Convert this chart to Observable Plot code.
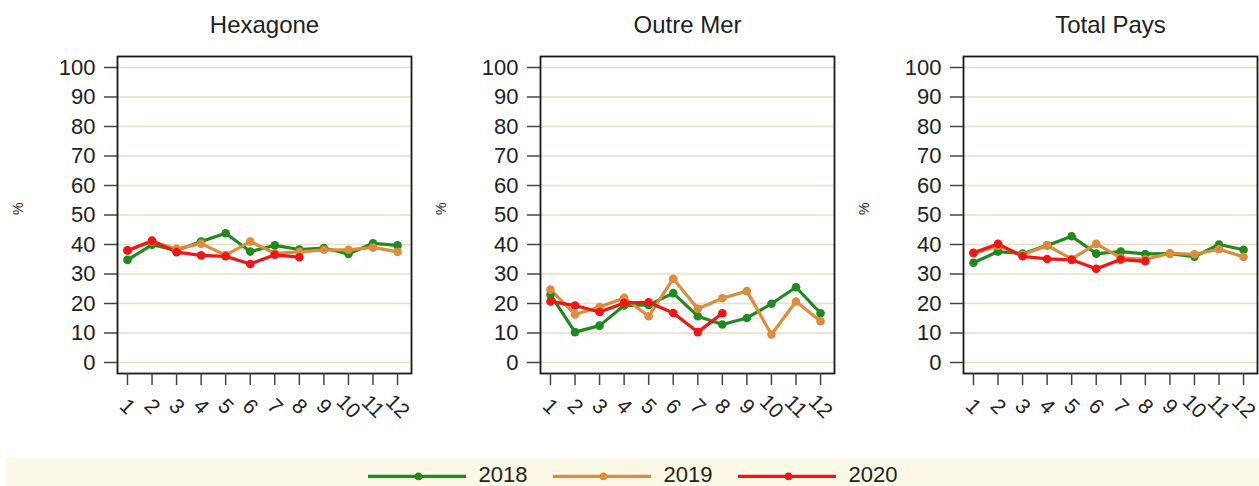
<!DOCTYPE html>
<html>
<head>
<meta charset="utf-8">
<script src="https://cdn.jsdelivr.net/npm/d3@7"></script>
<script src="https://cdn.jsdelivr.net/npm/@observablehq/plot@0.6"></script>
<style>
  html, body { margin: 0; padding: 0; background: #ffffff; }
  #chart { position: relative; width: 1259px; height: 486px; font-family: "Liberation Sans", Arial, sans-serif; overflow: hidden; }
  .panel { position: absolute; top: 0; }
  #legend { position: absolute; left: 6px; top: 458px; width: 1253px; height: 28px; background: #fbf8e6; }
  #legend svg { overflow: visible; }
</style>
</head>
<body>
<div id="chart"></div>
<script>
const months = [1, 2, 3, 4, 5, 6, 7, 8, 9, 10, 11, 12];
const years = ["2018", "2019", "2020"];
const colors = ["#1f8a1f", "#dc8c3c", "#f41414"];
const regions = ["Hexagone", "Outre Mer", "Total Pays"];
const yTicks = [0, 10, 20, 30, 40, 50, 60, 70, 80, 90, 100];

// Hexagone
const hexagone2018 = [34.8, 39.9, 38.0, 41.0, 43.8, 37.6, 39.7, 38.3, 38.8, 36.8, 40.4, 39.7];
const hexagone2019 = [38.0, 41.0, 38.5, 40.3, 36.4, 41.0, 37.0, 37.5, 38.2, 38.2, 39.0, 37.5];
const hexagone2020 = [38.0, 41.3, 37.4, 36.3, 36.0, 33.4, 36.5, 35.7];
// Outre Mer
const outremer2018 = [23.0, 10.3, 12.5, 19.3, 19.5, 23.5, 15.7, 12.9, 15.1, 19.9, 25.5, 16.7];
const outremer2019 = [24.7, 16.3, 18.8, 21.9, 15.7, 28.4, 18.2, 21.8, 24.2, 9.5, 20.7, 14.0];
const outremer2020 = [20.7, 19.3, 17.1, 20.2, 20.4, 16.8, 10.3, 16.7];
// Total Pays
const total2018 = [33.8, 37.6, 36.9, 39.7, 42.8, 36.9, 37.6, 36.8, 36.9, 35.9, 40.0, 38.2];
const total2019 = [37.0, 39.5, 36.5, 39.7, 35.1, 40.2, 35.5, 35.0, 37.0, 36.7, 38.4, 35.8];
const total2020 = [37.2, 40.2, 36.0, 35.1, 34.8, 31.8, 34.9, 34.3];

const series = {
  "Hexagone": [hexagone2018, hexagone2019, hexagone2020],
  "Outre Mer": [outremer2018, outremer2019, outremer2020],
  "Total Pays": [total2018, total2019, total2020]
};

const table = [];
for (const region of regions) {
  series[region].forEach((vals, i) => {
    vals.forEach((v, j) => table.push({region, year: years[i], month: months[j], value: v}));
  });
}

const font = '"Liberation Sans", Arial, sans-serif';
const chart = document.getElementById("chart");

regions.forEach((region, k) => {
  const rows = table.filter(d => d.region === region);
  const p = Plot.plot({
    width: 423,
    height: 450,
    marginLeft: 117,
    marginRight: 12,
    marginTop: 56,
    marginBottom: 77,
    style: {fontFamily: font, color: "#222", background: "transparent", overflow: "visible"},
    x: {domain: [0.594, 12.568], label: null},
    y: {domain: [-3.73, 103.73], label: null},
    color: {domain: years, range: colors},
    marks: [
      Plot.ruleY(yTicks, {stroke: "#e6dfc4", strokeWidth: 1.6}),
      Plot.frame({stroke: "#1a1a1a", strokeWidth: 1.8}),
      Plot.axisY(yTicks, {tickSize: 13, tickPadding: 9, fontSize: 22, stroke: "#444", strokeWidth: 1.5, label: null}),
      Plot.axisX(months, {tickSize: 12, tickPadding: 21, tickRotate: 45, textAnchor: "middle", lineAnchor: "middle", fontSize: 21, stroke: "#444", strokeWidth: 1.5, label: null}),
      Plot.line(rows, {x: "month", y: "value", z: "year", stroke: "year", strokeWidth: 3.2}),
      Plot.dot(rows, {x: "month", y: "value", fill: "year", r: 4.3}),
      Plot.text([region], {frameAnchor: "top", lineAnchor: "middle", dy: -31, fontSize: 24, fill: "#222"}),
      Plot.text(["%"], {frameAnchor: "left", dx: -99, rotate: -90, fontSize: 14, fill: "#222"})
    ]
  });
  p.classList.add("panel");
  p.style.left = (k * 423) + "px";
  chart.appendChild(p);
});

// Legend
const legend = document.createElement("div");
legend.id = "legend";
chart.appendChild(legend);
const lg = Plot.plot({
  width: 1253, height: 28, margin: 0,
  style: {fontFamily: font, background: "transparent", overflow: "visible"},
  x: {domain: [0, 1253]}, y: {domain: [0, 1]},
  axis: null,
  color: {domain: years, range: colors},
  marks: [
    Plot.ruleY(years.map((y, i) => ({year: y, x1: 362 + i * 185, x2: 460 + i * 185})), {y: 0.36, x1: "x1", x2: "x2", stroke: "year", strokeWidth: 3.4}),
    Plot.dot(years.map((y, i) => ({year: y, x: 412 + i * 185})), {x: "x", y: 0.36, fill: "year", r: 3.8}),
    Plot.text(years.map((y, i) => ({year: y, x: 472 + i * 185})), {x: "x", y: 0.42, text: "year", textAnchor: "start", fontSize: 22, fill: "#222"})
  ]
});
legend.appendChild(lg);
</script>
</body>
</html>
